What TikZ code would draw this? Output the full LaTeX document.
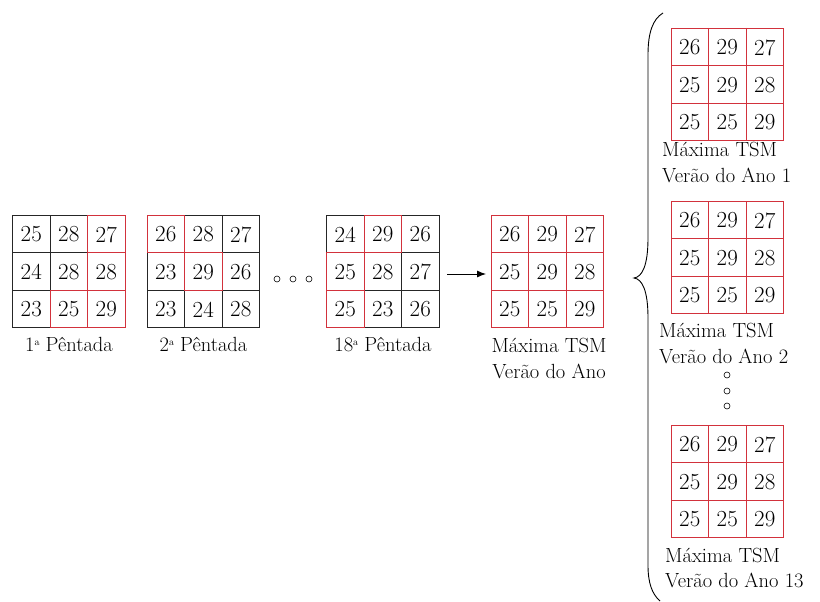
\documentclass[tikz,border=0pt]{standalone}
\usepackage{fontspec}
\usetikzlibrary{arrows.meta}
\definecolor{cellred}{RGB}{210,50,60}
\newcommand{\ord}{\raisebox{0.6ex}{\fontsize{10}{10}\selectfont a}}
\tikzset{
  gline/.style={draw=black!85, line width=0.9pt},
  rline/.style={draw=cellred, line width=0.9pt},
  num/.style={font=\fontsize{23}{26}\selectfont, inner sep=0pt, anchor=center},
  lbl/.style={font=\fontsize{20.5}{26}\selectfont, inner sep=0pt, anchor=base},
  lbll/.style={font=\fontsize{20.5}{26}\selectfont, inner sep=0pt, anchor=base west},
  dot/.style={draw=black, line width=0.6pt, fill=white},
  conn/.style={draw=black, line width=0.9pt, -{Latex[length=9pt,width=7pt]}},
  brace/.style={draw=black, line width=0.9pt}
}
% grid macro: #1 left x, #2 top y, #3 name, #4 numbers
\newcommand{\mygrid}[4]{%
  \foreach \v [count=\k from 0] in {#4} {
    \pgfmathtruncatemacro{\r}{int(\k/3)}
    \pgfmathtruncatemacro{\c}{mod(\k,3)}
    \node[num] (#3-\r\c) at ({#1+37.5*\c+18.75},{#2+37.5*\r+19.5}) {\v};
  }
  \draw[gline] (#1,#2) rectangle ++(112.5,112.5);
  \draw[gline] (#1+37.5,#2) -- ++(0,112.5) (#1+75,#2) -- ++(0,112.5)
               (#1,#2+37.5) -- ++(112.5,0) (#1,#2+75) -- ++(112.5,0);
}
\newcommand{\redcell}[4]{% left, top, row, col
  \draw[rline] ({#1+37.5*#4},{#2+37.5*#3}) rectangle ++(37.5,37.5);
}
\begin{document}
\begin{tikzpicture}[x=1pt,y=-1pt]
\useasboundingbox (0,0) rectangle (820,602);
\fill[white] (0,0) rectangle (820,602);

% grid 1
\mygrid{12.5}{215}{ga}{25,28,27,24,28,28,23,25,29}
\redcell{12.5}{215}{0}{2}\redcell{12.5}{215}{1}{2}\redcell{12.5}{215}{2}{1}\redcell{12.5}{215}{2}{2}
\node[lbl] (la) at (69,351) {1\ord{} Pêntada};

% grid 2
\mygrid{147}{215}{gb}{26,28,27,23,29,26,23,24,28}
\redcell{147}{215}{0}{0}\redcell{147}{215}{1}{1}
\node[lbl] (lb) at (203.5,351) {2\ord{} Pêntada};

% dots
\draw[dot] (277,279) circle (3);
\draw[dot] (293,279) circle (3);
\draw[dot] (309,279) circle (3);

% grid 3
\mygrid{326.5}{215}{gc}{24,29,26,25,28,27,25,23,26}
\redcell{326.5}{215}{0}{1}\redcell{326.5}{215}{1}{0}\redcell{326.5}{215}{2}{0}
\node[lbl] (lc) at (383,351) {18\ord{} Pêntada};

% arrow
\coordinate (as) at (447,274);
\coordinate (ae) at (486,274);
\draw[conn] (as) -- (ae);

% grid 4
\mygrid{491}{215}{gd}{26,29,27,25,29,28,25,25,29}
\foreach \i in {0,1,2}{\foreach \j in {0,1,2}{\redcell{491}{215}{\i}{\j}}}
\node[lbl] (ld1) at (549,352) {Máxima TSM};
\node[lbl] (ld2) at (549,378) {Verão do Ano};

% brace
\draw[brace] (663,13) .. controls (653,19) and (648,32) .. (648,55)
  -- (648,238) .. controls (648,266) and (642,277) .. (634,278)
  .. controls (642,279) and (648,290) .. (648,318)
  -- (648,565) .. controls (648,583) and (652,594) .. (660,601);

% right grids
\mygrid{671}{28}{ge}{26,29,27,25,29,28,25,25,29}
\foreach \i in {0,1,2}{\foreach \j in {0,1,2}{\redcell{671}{28}{\i}{\j}}}
\node[lbll] (le1) at (662,157) {Máxima TSM};
\node[lbll] (le2) at (662,182) {Verão do Ano 1};

\mygrid{671}{201}{gf}{26,29,27,25,29,28,25,25,29}
\foreach \i in {0,1,2}{\foreach \j in {0,1,2}{\redcell{671}{201}{\i}{\j}}}
\node[lbll] (lf1) at (659,337) {Máxima TSM};
\node[lbll] (lf2) at (659,363) {Verão do Ano 2};

\draw[dot] (727,375) circle (3);
\draw[dot] (727,391) circle (3);
\draw[dot] (727,406) circle (3);

\mygrid{671}{425}{gg}{26,29,27,25,29,28,25,25,29}
\foreach \i in {0,1,2}{\foreach \j in {0,1,2}{\redcell{671}{425}{\i}{\j}}}
\node[lbll] (lg1) at (665,562) {Máxima TSM};
\node[lbll] (lg2) at (665,587) {Verão do Ano 13};
\end{tikzpicture}
\end{document}
